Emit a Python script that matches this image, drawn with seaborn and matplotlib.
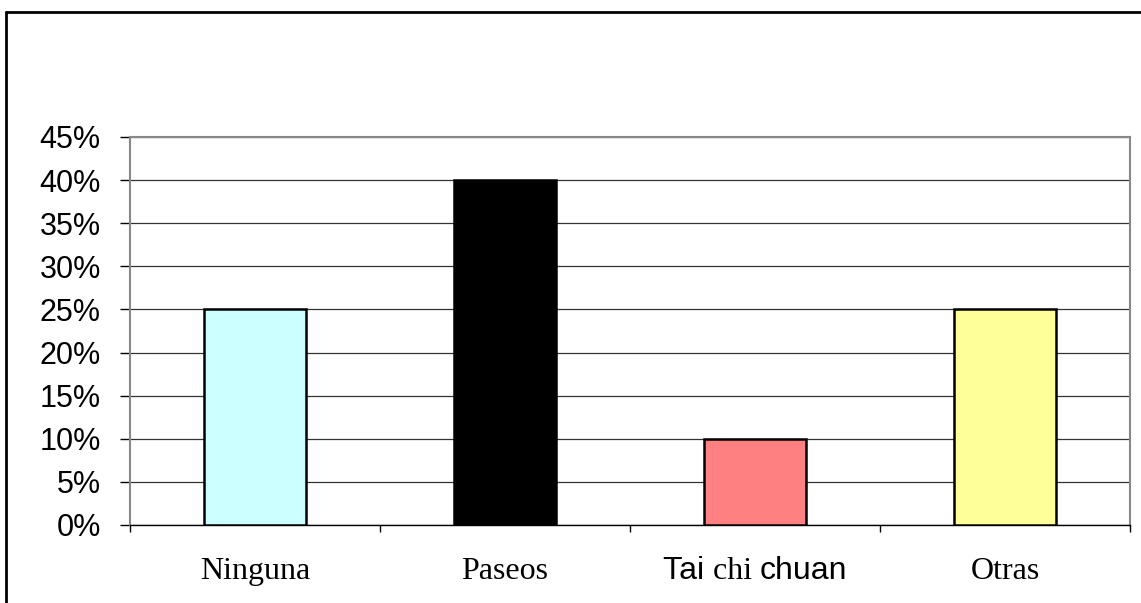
import matplotlib
matplotlib.use("Agg")
import matplotlib.pyplot as plt
from matplotlib.lines import Line2D
from matplotlib.offsetbox import TextArea, HPacker, AnnotationBbox
from matplotlib.ticker import FixedLocator, PercentFormatter
import pandas as pd
import seaborn as sns

categories = ["Ninguna", "Paseos", "Tai chi chuan", "Otras"]
values = [0.25, 0.40, 0.10, 0.25]
colors = ["#CCFFFF", "#000000", "#FF8080", "#FFFF99"]
y_ticks = [0.0, 0.05, 0.10, 0.15, 0.20, 0.25, 0.30, 0.35, 0.40, 0.45]

sns.set_style("white")
plt.rcParams["font.family"] = ["Liberation Sans", "DejaVu Sans"]
plt.rcParams["text.color"] = "black"
plt.rcParams["xtick.color"] = "black"
plt.rcParams["ytick.color"] = "black"

df = pd.DataFrame({"actividad": categories, "valor": values})

fig = plt.figure(figsize=(11.41, 6.03), dpi=100)
ax = fig.add_axes([130 / 1141, 78 / 603, 1000 / 1141, 388 / 603])

sns.barplot(data=df, x="actividad", y="valor", hue="actividad",
            palette=dict(zip(categories, colors)), legend=False,
            width=0.41, edgecolor="black", linewidth=1.8, saturation=1,
            ax=ax, zorder=3)

ax.set_xlim(-0.5, 3.5)
ax.set_ylim(0, 0.45)
ax.set_xlabel("")
ax.set_ylabel("")

# y axis
ax.yaxis.set_major_locator(FixedLocator(y_ticks))
ax.yaxis.set_major_formatter(PercentFormatter(1.0, decimals=0))
ax.tick_params(axis="y", left=True, length=7, width=1, color="black",
               labelcolor="black", pad=14, labelsize=22)
ax.grid(axis="y", color="#333333", linewidth=0.9, zorder=0)

# x axis: labels at centres, small ticks at the category boundaries
ax.set_xticks(range(len(categories)))
labels = [c if c != "Tai chi chuan" else "" for c in categories]
ax.set_xticklabels(labels, family=["Liberation Serif"], fontsize=23,
                   color="black")
ax.tick_params(axis="x", which="major", length=0, pad=23)
ax.set_xticks([i - 0.5 for i in range(len(categories) + 1)], minor=True)
ax.tick_params(axis="x", which="minor", bottom=True, length=5, width=1,
               color="black")

# mixed-font label as in the original
parts = [TextArea("Tai ", textprops=dict(family="Liberation Sans", size=23, color="black")),
         TextArea("chi ", textprops=dict(family="Liberation Serif", size=23, color="black")),
         TextArea("chuan", textprops=dict(family="Liberation Sans", size=23, color="black"))]
pack = HPacker(children=parts, pad=0, sep=0, align="baseline")
ab = AnnotationBbox(pack, (categories.index("Tai chi chuan"), 0),
                    xycoords=ax.get_xaxis_transform(),
                    xybox=(0, -33), boxcoords="offset points",
                    frameon=False, box_alignment=(0.5, 0.5))
ax.add_artist(ab)

for side in ["top", "right", "left"]:
    ax.spines[side].set_color("#888888")
    ax.spines[side].set_linewidth(1.5)
ax.spines["bottom"].set_color("black")
ax.spines["bottom"].set_linewidth(1)

# outer chart border (only left and top fall inside the image)
fig.add_artist(Line2D([6 / 1141, 6 / 1141], [0, 1 - 12 / 603],
                      transform=fig.transFigure, color="black", linewidth=2))
fig.add_artist(Line2D([6 / 1141, 1], [1 - 12 / 603, 1 - 12 / 603],
                      transform=fig.transFigure, color="black", linewidth=2))

fig.savefig("out.png", dpi=100)
